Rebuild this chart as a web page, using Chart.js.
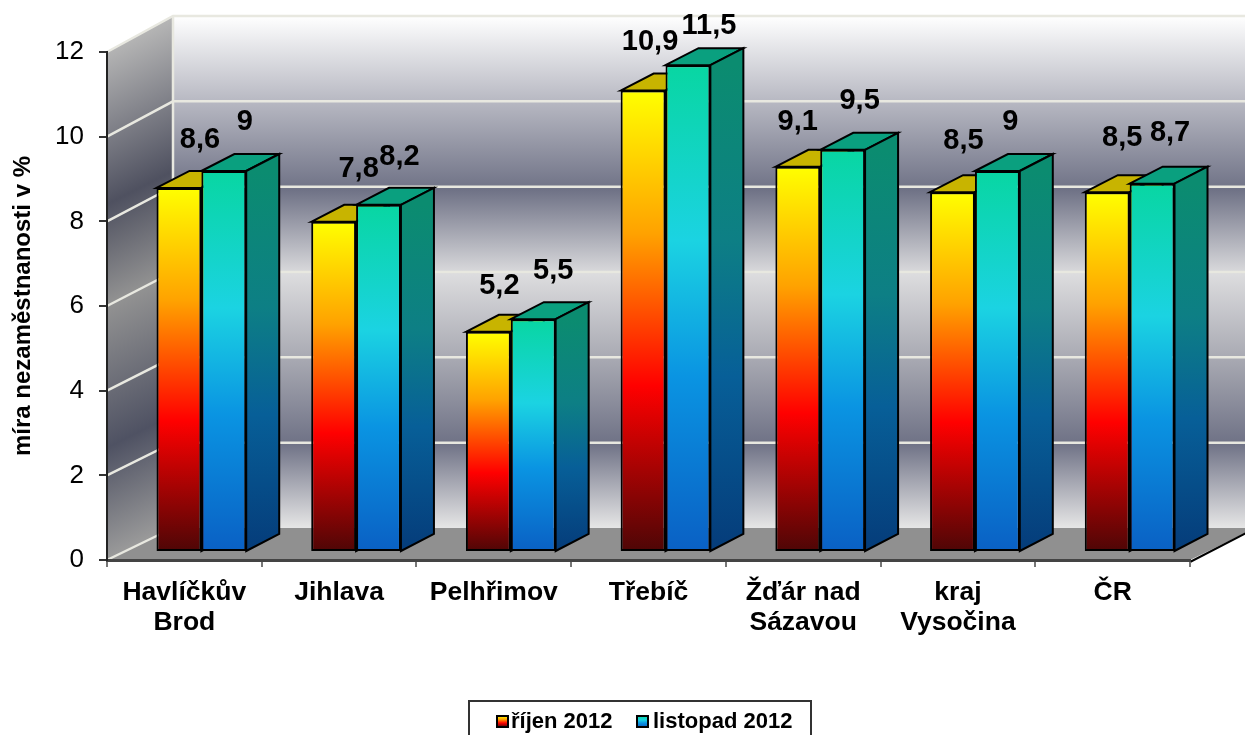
<!DOCTYPE html>
<html>
<head>
<meta charset="utf-8">
<title>míra nezaměstnanosti</title>
<script src="https://cdn.jsdelivr.net/npm/chart.js@4"></script>
<style>
  html, body { margin: 0; padding: 0; background: #fff; overflow: hidden; }
  canvas { display: block; }
</style>
</head>
<body>
<canvas id="chart" width="1245" height="735"></canvas>
<script>
const categories = [["Havlíčkův", "Brod"], "Jihlava", "Pelhřimov", "Třebíč", ["Žďár nad", "Sázavou"], ["kraj", "Vysočina"], "ČR"];
const seriesNames = ["říjen 2012", "listopad 2012"];
const rijen = [8.6, 7.8, 5.2, 10.9, 9.1, 8.5, 8.5];
const listopad = [9, 8.2, 5.5, 11.5, 9.5, 9, 8.7];
const yTicks = [0, 2, 4, 6, 8, 10, 12];

// hand placed data labels in the original, offset from the bar top
const labelDx = [[21, 25, 11, 7, 0, 11, 15], [21, 21, 20, 21, 17, 13, 18]];
const labelDy = [[-48, -53, -46, -49, -45, -51, -54], [-49, -48, -48, -39, -49, -49, -51]];

const FONT = '"Liberation Sans", Arial, sans-serif';
const WALL_X = 66;                  // depth of the room
const SHIFT_X = 17, SHIFT_Y = -8;   // bars stand a bit inside the room
const BAR_X = 33, BAR_Y = -17;      // depth of one bar

function stops(g, list) {
  list.forEach((s) => g.addColorStop(s[0], s[1]));
  return g;
}

function barGradient(context, list) {
  if (context.parsed === undefined) return list[0][1];
  const y = context.chart.scales.y;
  const top = y.getPixelForValue(context.parsed.y);
  const base = y.getPixelForValue(0);
  if (!isFinite(top) || !isFinite(base)) return list[0][1]; // scale not laid out yet
  return stops(context.chart.ctx.createLinearGradient(0, top, 0, base), list);
}

const warm = [[0, "#ffff00"], [0.31, "#ffa200"], [0.64, "#ff0000"], [1, "#4d0606"]];
const cold = [[0, "#08d6a2"], [0.36, "#1bd3e2"], [0.64, "#0a94e2"], [1, "#0a60c4"]];
const coldSide = [[0, "#0b8c70"], [0.36, "#0d7f85"], [0.64, "#075f98"], [1, "#053c7a"]];

const room = {
  id: "room",
  beforeDraw(chart) {
    const ctx = chart.ctx, a = chart.chartArea, y = chart.scales.y;
    const l = a.left, r = a.right, t = a.top, b = a.bottom;
    // the wall rises a little faster than the floor recedes
    const back = (py) => py - 32 - 4 * (b - py) / (b - t);
    ctx.save();
    // back wall
    const bw = ctx.createLinearGradient(0, back(t), 0, back(b));
    stops(bw, [[0, "#ffffff"], [0.17, "#b6b7c1"], [0.34, "#6f7286"], [0.505, "#dcdcde"], [0.67, "#a8a9b2"], [0.835, "#6f7286"], [1, "#e6e6e6"]]);
    ctx.fillStyle = bw;
    ctx.fillRect(l + WALL_X, back(t), r - l, back(b) - back(t));
    // side wall
    const sw = ctx.createLinearGradient(l, t, l + 203, t + 406);
    stops(sw, [[0, "#b4b4b4"], [0.3, "#4f5160"], [0.5, "#929292"], [0.78, "#4f5263"], [1, "#9a9a9a"]]);
    ctx.fillStyle = sw;
    ctx.beginPath();
    ctx.moveTo(l, t);
    ctx.lineTo(l + WALL_X, back(t));
    ctx.lineTo(l + WALL_X, back(b));
    ctx.lineTo(l, b);
    ctx.closePath();
    ctx.fill();
    // floor
    ctx.fillStyle = "#909090";
    ctx.beginPath();
    ctx.moveTo(l, b);
    ctx.lineTo(l + WALL_X, back(b));
    ctx.lineTo(r + WALL_X, back(b));
    ctx.lineTo(r, b);
    ctx.closePath();
    ctx.fill();
    // grid lines
    ctx.strokeStyle = "#e8e8e0";
    ctx.lineWidth = 2.5;
    y.ticks.forEach((tick) => {
      const py = y.getPixelForValue(tick.value);
      ctx.beginPath();
      ctx.moveTo(l, py);
      ctx.lineTo(l + WALL_X, back(py));
      if (tick.value > 0) ctx.lineTo(r + WALL_X, back(py));
      ctx.stroke();
    });
    ctx.beginPath();
    ctx.moveTo(l + WALL_X, back(t));
    ctx.lineTo(l + WALL_X, back(b));
    ctx.stroke();
    // right edge of the floor
    ctx.strokeStyle = "#000";
    ctx.lineWidth = 2;
    ctx.beginPath();
    ctx.moveTo(r, b + 2);
    ctx.lineTo(r + WALL_X, b + 2 - 34);
    ctx.stroke();
    ctx.restore();
  },
  beforeDatasetsDraw(chart) {
    const ctx = chart.ctx;
    ctx.save();
    ctx.translate(SHIFT_X, SHIFT_Y);
    ctx.strokeStyle = "#000";
    ctx.lineWidth = 2;
    ctx.lineJoin = "miter";
    [0, 1].forEach((i) => {
      chart.getDatasetMeta(i).data.forEach((el) => {
        const l = el.x - el.width / 2, r = el.x + el.width / 2;
        // top face
        ctx.fillStyle = i == 0 ? "#c8b400" : "#0aa07f";
        ctx.beginPath();
        ctx.moveTo(l, el.y);
        ctx.lineTo(l + BAR_X, el.y + BAR_Y);
        ctx.lineTo(r + BAR_X, el.y + BAR_Y);
        ctx.lineTo(r, el.y);
        ctx.closePath();
        ctx.fill();
        ctx.stroke();
        // side face
        ctx.fillStyle = stops(ctx.createLinearGradient(0, el.y, 0, el.base), i == 0 ? warm : coldSide);
        ctx.beginPath();
        ctx.moveTo(r, el.y);
        ctx.lineTo(r + BAR_X, el.y + BAR_Y);
        ctx.lineTo(r + BAR_X, el.base + BAR_Y);
        ctx.lineTo(r, el.base);
        ctx.closePath();
        ctx.fill();
        ctx.stroke();
      });
    });
  },
  afterDatasetsDraw(chart) {
    const ctx = chart.ctx;
    ctx.restore();
    ctx.save();
    ctx.font = "bold 29px " + FONT;
    ctx.fillStyle = "#000";
    ctx.textAlign = "center";
    ctx.textBaseline = "middle";
    [rijen, listopad].forEach((values, i) => {
      chart.getDatasetMeta(i).data.forEach((el, j) => {
        const text = String(values[j]).replace(".", ",");
        ctx.fillText(text, el.x + SHIFT_X + labelDx[i][j], el.y + SHIFT_Y + labelDy[i][j]);
      });
    });
    ctx.restore();
  },
  afterDraw(chart) {
    const ctx = chart.ctx;
    ctx.save();
    ctx.strokeStyle = "#333";
    ctx.lineWidth = 2;
    ctx.strokeRect(469, 701, 342, 40);
    ctx.font = "bold 22px " + FONT;
    ctx.textBaseline = "middle";
    ctx.fillStyle = "#000";
    ctx.fillText(seriesNames[0], 511, 722);
    ctx.fillText(seriesNames[1], 653, 722);
    [[497, warm], [637, cold]].forEach((s) => {
      ctx.fillStyle = stops(ctx.createLinearGradient(0, 716, 0, 727), s[1]);
      ctx.fillRect(s[0], 716, 11, 11);
      ctx.strokeStyle = "#000";
      ctx.strokeRect(s[0], 716, 11, 11);
    });
    ctx.restore();
  },
};

const chart = new Chart(document.getElementById("chart").getContext("2d"), {
  type: "bar",
  data: {
    labels: categories,
    datasets: [
      {
        label: seriesNames[0],
        data: rijen,
        backgroundColor: (c) => barGradient(c, warm),
      },
      {
        label: seriesNames[1],
        data: listopad,
        backgroundColor: (c) => barGradient(c, cold),
      },
    ],
  },
  options: {
    responsive: false,
    animation: false,
    clip: false,
    layout: { padding: { top: 52, left: 0, right: 55, bottom: 0 } },
    datasets: {
      bar: {
        categoryPercentage: 0.58,
        barPercentage: 1,
        borderColor: "#000",
        borderWidth: 2,
        borderSkipped: false,
        inflateAmount: 0,
      },
    },
    plugins: {
      legend: { display: false },
      tooltip: { enabled: false },
    },
    scales: {
      x: {
        afterFit(scale) { scale.height = 175; },
        border: { color: "#444", width: 3 },
        grid: { drawOnChartArea: false, color: "#777", lineWidth: 2, tickLength: 7 },
        ticks: {
          color: "#000",
          maxRotation: 0,
          autoSkip: false,
          padding: 11,
          font: { family: FONT, size: 26.5, weight: "bold", lineHeight: 1.13 },
        },
      },
      y: {
        min: 0,
        max: 12,
        afterFit(scale) { scale.width = 107; },
        afterBuildTicks(scale) { scale.ticks = yTicks.map((v) => ({ value: v })); },
        border: { color: "#222", width: 2 },
        grid: { drawOnChartArea: false, color: "#333", lineWidth: 2, tickLength: 8 },
        title: {
          display: true,
          text: "míra nezaměstnanosti v %",
          color: "#000",
          font: { family: FONT, size: 24, weight: "bold" },
          padding: { top: 9, bottom: 0 },
        },
        ticks: {
          color: "#000",
          padding: 15,
          font: { family: FONT, size: 26 },
        },
      },
    },
  },
  plugins: [room],
});
</script>
</body>
</html>
